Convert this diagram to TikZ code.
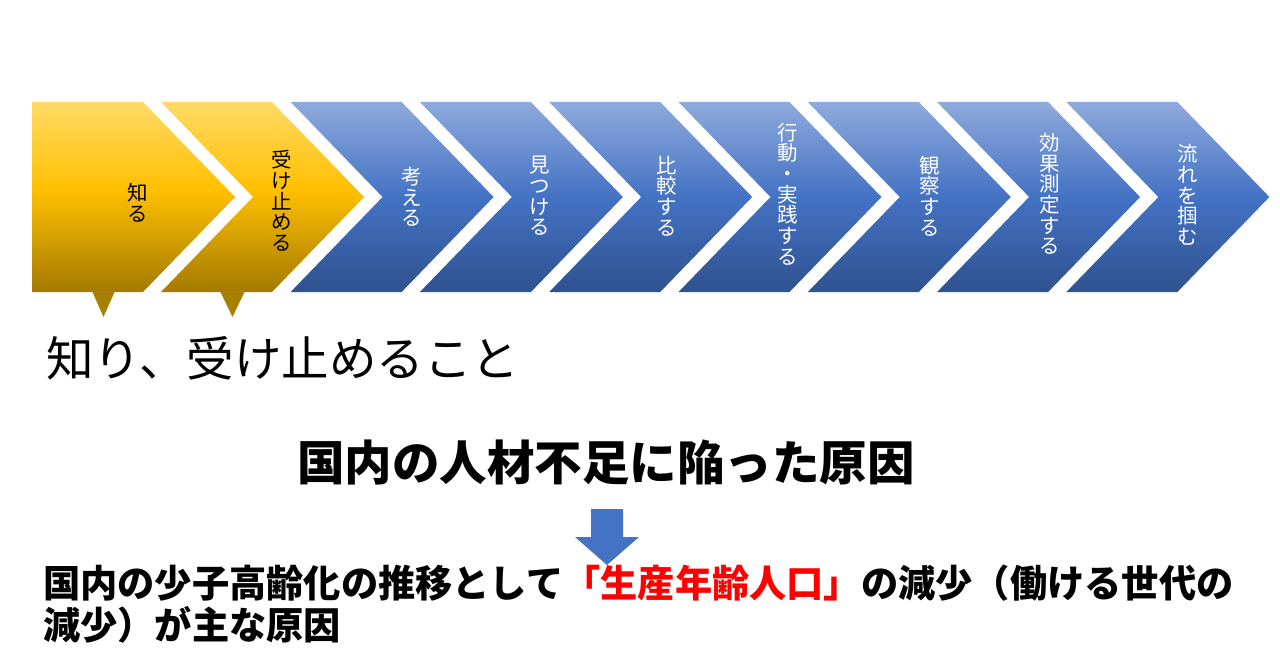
\documentclass[tikz,border=0pt]{standalone}
\usepackage{fontspec}
\setmainfont{Noto Sans CJK JP}
\usetikzlibrary{calc}
\definecolor{ytop}{HTML}{FFDA66}
\definecolor{ymid}{HTML}{FFC000}
\definecolor{ybot}{HTML}{A47A00}
\definecolor{btop}{HTML}{8FAADC}
\definecolor{bmid}{HTML}{4472C4}
\definecolor{bbot}{HTML}{2F528F}
\definecolor{arrowblue}{HTML}{4472C4}
\definecolor{pointgold}{HTML}{A88000}
\pgfdeclareverticalshading{ygrad}{100bp}{color(0bp)=(ybot); color(25bp)=(ybot); color(52bp)=(ymid); color(75bp)=(ytop); color(100bp)=(ytop)}
\pgfdeclareverticalshading{bgrad}{100bp}{color(0bp)=(bbot); color(25bp)=(bbot); color(50bp)=(bmid); color(75bp)=(btop); color(100bp)=(btop)}
\tikzset{
  yshade/.style={shading=ygrad, draw=none},
  bshade/.style={shading=bgrad, draw=none},
  vtext/.style={align=center, inner sep=0pt, font=\fontsize{20.5}{20.7}\selectfont},
  bigtext/.style={inner sep=0pt, font=\fontsize{47.5}{50}\selectfont},
  bodytext/.style={inner sep=0pt, font=\fontsize{37.8}{42}\selectfont\bfseries},
}
\begin{document}
\begin{tikzpicture}[x=1pt,y=-1pt]
\useasboundingbox (0,0) rectangle (1280,666);
\fill[white] (0,0) rectangle (1280,666);
% first chevron (flat left)
\path[yshade] (32,102) -- (143,102) -- (235,197) -- (143,292) -- (32,292) -- cycle;
% second chevron
\path[yshade] (161,102) -- (272,102) -- (364,197) -- (272,292) -- (161,292) -- (253,197) -- cycle;
% blue chevrons
\foreach \i in {2,...,8}{
  \pgfmathsetmacro{\xo}{32+129.3*\i}
  \path[bshade] (\xo,102) -- ({\xo+111},102) -- ({\xo+203},197) -- ({\xo+111},292) -- (\xo,292) -- ({\xo+92},197) -- cycle;
}
% pointers
\fill[pointgold] (92,291) -- (115,291) -- (103.5,317) -- cycle;
\fill[pointgold] (220,291) -- (245,291) -- (232.5,317) -- cycle;
% chevron labels
\node[vtext] (t1) at (138,203) {知\\る};
\node[vtext] (t2) at (282,201) {受\\け\\止\\め\\る};
\node[vtext, white] (t3) at (412,197) {考\\え\\る};
\node[vtext, white] (t4) at (540,196) {見\\つ\\け\\る};
\node[vtext, white] (t5) at (667,196) {比\\較\\す\\る};
\node[vtext, white] (t6) at (788,194) {行\\動\\・\\実\\践\\す\\る};
\node[vtext, white] (t7) at (930,196) {観\\察\\す\\る};
\node[vtext, white] (t8) at (1050,194) {効\\果\\測\\定\\す\\る};
\node[vtext, white] (t9) at (1188,195) {流\\れ\\を\\掴\\む};
% texts
\node[bigtext, anchor=west] (know) at (46,358) {知り、受け止めること};
\node[bigtext, font=\fontsize{47.5}{50}\selectfont\bfseries] (cause) at (606,462) {国内の人材不足に陥った原因};
% arrow
\fill[arrowblue] (591,509) -- (623,509) -- (623,537) -- (639,537) -- (607,565) -- (575,537) -- (591,537) -- cycle;
\node[bodytext, anchor=west, xscale=0.985] (l1) at (43,583) {国内の少子高齢化の推移として\textcolor{red}{「生産年齢人口」}の減少（働ける世代の};
\node[bodytext, anchor=west, xscale=0.985] (l2) at (43,625) {減少）が主な原因};
\end{tikzpicture}
\end{document}
